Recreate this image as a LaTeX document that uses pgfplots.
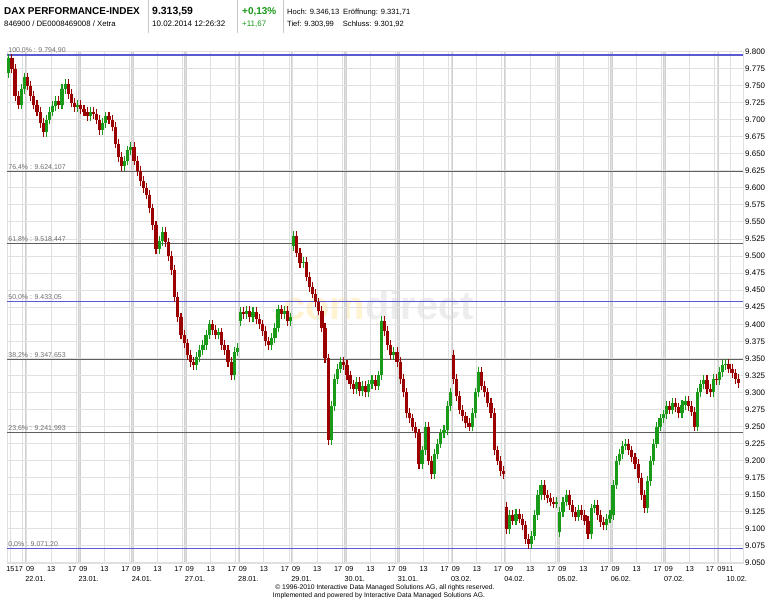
\documentclass[border=0pt]{standalone}
\usepackage{pgfplots}
\pgfplotsset{compat=1.18}
\usepackage{pgfplotstable}
\usepackage{fontspec}
\setmainfont{Liberation Sans}
\definecolor{fibblue}{RGB}{90,90,210}
\definecolor{fibgray}{RGB}{95,95,95}
\definecolor{labgray}{RGB}{110,110,110}
\definecolor{gridlight}{RGB}{224,224,224}
\definecolor{gridday}{RGB}{208,208,208}
\definecolor{pricegreen}{RGB}{20,150,20}
\definecolor{wmyellow}{RGB}{255,243,210}
\definecolor{wmgray}{RGB}{237,237,237}
\definecolor{sepgray}{RGB}{200,200,200}

\pgfplotstableread{
x o c
-2.75 9768 9790
-2.25 9790 9775
-1.75 9775 9735
-1.25 9735 9722
-0.75 9722 9745
-0.25 9745 9762
0.25 9762 9750
0.75 9750 9735
1.25 9735 9722
1.75 9722 9712
2.25 9712 9695
2.75 9695 9682
3.25 9682 9700
3.75 9700 9712
4.25 9712 9720
4.75 9720 9728
5.25 9728 9722
5.75 9722 9745
6.25 9745 9752
6.75 9752 9738
7.25 9738 9725
7.75 9725 9718
8.25 9718 9722
8.75 9722 9715
9.25 9715 9712
9.75 9712 9705
10.25 9705 9712
10.75 9712 9708
11.25 9708 9700
11.75 9700 9685
12.25 9685 9695
12.75 9695 9705
13.25 9705 9700
13.75 9700 9690
14.25 9690 9665
14.75 9665 9645
15.25 9645 9632
15.75 9632 9640
16.25 9640 9655
16.75 9655 9660
17.25 9660 9640
17.75 9640 9625
18.25 9625 9610
18.75 9610 9600
19.25 9600 9590
19.75 9590 9570
20.25 9570 9545
20.75 9545 9510
21.25 9510 9522
21.75 9522 9535
22.25 9535 9520
22.75 9520 9500
23.25 9500 9480
23.75 9480 9440
24.25 9440 9410
24.75 9410 9385
25.25 9385 9372
25.75 9372 9355
26.25 9355 9345
26.75 9345 9340
27.25 9340 9352
27.75 9352 9362
28.25 9362 9370
28.75 9370 9385
29.25 9385 9400
29.75 9400 9392
30.25 9392 9385
30.75 9385 9388
31.25 9388 9370
31.75 9370 9362
32.25 9362 9345
32.75 9345 9325
33.25 9325 9360
33.75 9360 9365
34.25 9405 9418
34.75 9418 9415
35.25 9415 9420
35.75 9420 9410
36.25 9410 9418
36.75 9418 9408
37.25 9408 9400
37.75 9400 9390
38.25 9390 9375
38.75 9375 9370
39.25 9370 9380
39.75 9380 9395
40.25 9395 9422
40.75 9422 9415
41.25 9415 9420
41.75 9420 9405
42.25 9405 9410
42.75 9515 9530
43.25 9530 9505
43.75 9505 9490
44.25 9490 9492
44.75 9492 9470
45.25 9470 9455
45.75 9455 9445
46.25 9445 9432
46.75 9432 9420
47.25 9420 9395
47.75 9395 9350
48.25 9350 9230
48.75 9230 9280
49.25 9280 9320
49.75 9320 9335
50.25 9335 9345
50.75 9345 9340
51.25 9340 9325
51.75 9325 9312
52.25 9312 9305
52.75 9305 9315
53.25 9315 9302
53.75 9302 9310
54.25 9310 9300
54.75 9300 9312
55.25 9312 9318
55.75 9318 9310
56.25 9310 9325
56.75 9325 9405
57.25 9405 9390
57.75 9390 9370
58.25 9370 9355
58.75 9355 9360
59.25 9360 9345
59.75 9345 9320
60.25 9320 9300
60.75 9300 9270
61.25 9270 9262
61.75 9262 9250
62.25 9250 9240
62.75 9240 9195
63.25 9195 9215
63.75 9215 9250
64.25 9250 9200
64.75 9200 9180
65.25 9180 9210
65.75 9210 9225
66.25 9225 9240
66.75 9240 9245
67.25 9245 9280
67.75 9280 9300
68.25 9355 9320
68.75 9320 9295
69.25 9295 9275
69.75 9275 9265
70.25 9265 9255
70.75 9255 9250
71.25 9250 9270
71.75 9270 9300
72.25 9300 9330
72.75 9330 9310
73.25 9310 9300
73.75 9300 9285
74.25 9285 9270
74.75 9270 9215
75.25 9215 9200
75.75 9200 9185
76.25 9185 9180
76.75 9132 9100
77.25 9100 9120
77.75 9120 9112
78.25 9112 9122
78.75 9122 9115
79.25 9115 9105
79.75 9105 9085
80.25 9085 9078
80.75 9078 9090
81.25 9090 9120
81.75 9120 9150
82.25 9150 9165
82.75 9165 9150
83.25 9150 9145
83.75 9145 9140
84.25 9140 9137
84.75 9137 9140
85.25 9095 9125
85.75 9125 9140
86.25 9140 9150
86.75 9150 9135
87.25 9135 9125
87.75 9125 9118
88.25 9118 9128
88.75 9128 9120
89.25 9120 9112
89.75 9112 9092
90.25 9092 9130
90.75 9130 9135
91.25 9135 9120
91.75 9120 9110
92.25 9110 9105
92.75 9105 9115
93.25 9115 9120
93.75 9120 9165
94.25 9165 9200
94.75 9200 9210
95.25 9210 9222
95.75 9222 9225
96.25 9225 9215
96.75 9215 9205
97.25 9205 9195
97.75 9195 9175
98.25 9175 9150
98.75 9150 9130
99.25 9130 9170
99.75 9170 9200
100.25 9200 9225
100.75 9225 9250
101.25 9250 9262
101.75 9262 9268
102.25 9268 9280
102.75 9280 9275
103.25 9275 9285
103.75 9285 9278
104.25 9278 9270
104.75 9270 9282
105.25 9282 9288
105.75 9288 9280
106.25 9280 9272
106.75 9272 9250
107.25 9250 9300
107.75 9300 9312
108.25 9312 9318
108.75 9318 9305
109.25 9305 9300
109.75 9300 9320
110.25 9320 9318
110.75 9318 9330
111.25 9330 9340
111.75 9340 9342
112.25 9342 9335
112.75 9335 9328
113.25 9328 9320
113.75 9320 9314
}\candles
\pgfplotstablecreatecol[create col/expr={\thisrow{c}>=\thisrow{o}}]{d}\candles

\begin{document}
\begin{tikzpicture}[x=1bp,y=1bp]
\path[use as bounding box] (0,0) rectangle (768,600);
% header
\draw[sepgray, line width=1bp] (148.5,567) -- (148.5,600);
\draw[sepgray, line width=1bp] (237.5,567) -- (237.5,600);
\draw[sepgray, line width=1bp] (283,567) -- (283,600);
\node[anchor=base west, inner sep=0, font=\fontsize{10}{12}\selectfont\bfseries] at (4,585) {DAX PERFORMANCE-INDEX};
\node[anchor=base west, inner sep=0, font=\fontsize{7.8}{9}\selectfont] at (4,573.5) {846900 / DE0008469008 / Xetra};
\node[anchor=base west, inner sep=0, font=\fontsize{10.5}{12}\selectfont\bfseries] at (152,585) {9.313,59};
\node[anchor=base west, inner sep=0, font=\fontsize{8}{9}\selectfont] at (152,573.5) {10.02.2014 12:26:32};
\node[anchor=base west, inner sep=0, font=\fontsize{10}{12}\selectfont\bfseries, text=pricegreen] at (242,585) {+0,13\%};
\node[anchor=base west, inner sep=0, font=\fontsize{8}{9}\selectfont, text=pricegreen] at (242,573.5) {+11,67};
\node[anchor=base west, inner sep=0, font=\fontsize{7.6}{9}\selectfont] at (287,585) {Hoch: 9.346,13\hspace{4bp}Eröffnung: 9.331,71};
\node[anchor=base west, inner sep=0, font=\fontsize{7.6}{9}\selectfont] at (287,573.5) {Tief: 9.303,99\hspace{9bp}Schluss: 9.301,92};
% footer
\node[anchor=base, inner sep=0, font=\fontsize{6.8}{8}\selectfont] at (385,10) {© 1996-2010 Interactive Data Managed Solutions AG, all rights reserved.};
\node[anchor=base, inner sep=0, font=\fontsize{6.8}{8}\selectfont] at (379,2.5) {Implemented and powered by Interactive Data Managed Solutions AG.};
% watermark (behind the axis)
\node[anchor=base west, inner sep=0, font=\fontsize{40}{40}\selectfont\bfseries] at (272,280) {\textcolor{wmyellow}{.com}\textcolor{wmgray}{direct}};

\begin{axis}[
  at={(7bp,37bp)}, anchor=south west,
  scale only axis, width=736bp, height=511.5bp,
  xmin=-3.04, xmax=114.5, ymin=9050, ymax=9800,
  clip mode=individual,
  axis line style={draw=gridlight},
  major tick length=0pt, minor tick length=0pt,
  ytick={9050,9075,...,9800},
  yticklabel pos=right,
  scaled y ticks=false,
  ymajorgrids, xmajorgrids, xminorgrids,
  major grid style={draw=gridlight, line width=1bp},
  minor grid style={draw=gridday, line width=2.6bp},
  minor xtick={0,8.5,...,110.5},
  xtick={-2.5,-0.5,0,4,8,8.5,12.5,16.5,17,21,25,25.5,29.5,33.5,34,38,42,42.5,46.5,50.5,51,55,59,59.5,63.5,67.5,68,72,76,76.5,80.5,84.5,85,89,93,93.5,97.5,101.5,102,106,110,110.5,112.5},
  xticklabels={15,\llap{17},\rlap{09},13,
    \llap{17},\rlap{09},13, \llap{17},\rlap{09},13, \llap{17},\rlap{09},13,
    \llap{17},\rlap{09},13, \llap{17},\rlap{09},13, \llap{17},\rlap{09},13,
    \llap{17},\rlap{09},13, \llap{17},\rlap{09},13, \llap{17},\rlap{09},13,
    \llap{17},\rlap{09},13, \llap{17},\rlap{09},13, \llap{17},\rlap{09},13,
    \llap{17\hspace{1bp}},\rlap{\hspace{-0.5bp}09},\rlap{\hspace{-4.5bp}11}},
  extra x ticks={1.5,10,18.5,27,35.5,44,52.5,61,69.5,78,86.5,95,103.5,113.5},
  extra x tick labels={22.01.,23.01.,24.01.,27.01.,28.01.,29.01.,30.01.,31.01.,03.02.,04.02.,05.02.,06.02.,07.02.,10.02.},
  extra x tick style={grid=none, tick label style={yshift=-9.5bp}},
  xticklabel style={font=\fontsize{7.3}{8}\selectfont, text=black},
  yticklabel style={font=\fontsize{8}{9}\selectfont, text=black, anchor=west, inner sep=2bp},
  /pgf/number format/1000 sep={.},
  /pgf/number format/assume math mode=true,
  colormap={updown}{rgb255=(155,0,0) rgb255=(25,155,25)},
  point meta min=0, point meta max=1,
]
% Fibonacci lines
\addplot[fibblue, line width=1.2bp] coordinates {(-3.04,9794.9) (114.5,9794.9)};
\addplot[fibgray, line width=1bp] coordinates {(-3.04,9624.107) (114.5,9624.107)};
\addplot[fibgray, line width=1bp] coordinates {(-3.04,9518.447) (114.5,9518.447)};
\addplot[fibblue, line width=1.2bp] coordinates {(-3.04,9433.05) (114.5,9433.05)};
\addplot[fibgray, line width=1bp] coordinates {(-3.04,9347.653) (114.5,9347.653)};
\addplot[fibgray, line width=1bp] coordinates {(-3.04,9241.993) (114.5,9241.993)};
\addplot[fibblue, line width=1.2bp] coordinates {(-3.04,9071.2) (114.5,9071.2)};
% wicks
\addplot[no markers, point meta=explicit,
  quiver={u=0, v={abs(\thisrow{c}-\thisrow{o})+14}, colored=mapped color,
    every arrow/.append style={line width=1.1bp}}]
  table[x=x, y expr={min(\thisrow{o},\thisrow{c})-7}, meta=d] {\candles};
% bodies
\addplot[no markers, point meta=explicit,
  quiver={u=0, v={\thisrow{c}-\thisrow{o}}, colored=mapped color,
    every arrow/.append style={line width=3.2bp}}]
  table[x=x, y=o, meta=d] {\candles};
% Fibonacci labels
\node[anchor=base west, inner sep=0, font=\fontsize{7}{8}\selectfont, text=labgray] at (axis cs:-2.85,9794.9) [yshift=2bp] {100,0\% : 9.794,90};
\node[anchor=base west, inner sep=0, font=\fontsize{7}{8}\selectfont, text=labgray] at (axis cs:-2.85,9624.107) [yshift=2bp] {76,4\% : 9.624,107};
\node[anchor=base west, inner sep=0, font=\fontsize{7}{8}\selectfont, text=labgray] at (axis cs:-2.85,9518.447) [yshift=2bp] {61,8\% : 9.518,447};
\node[anchor=base west, inner sep=0, font=\fontsize{7}{8}\selectfont, text=labgray] at (axis cs:-2.85,9433.05) [yshift=2bp] {50,0\% : 9.433,05};
\node[anchor=base west, inner sep=0, font=\fontsize{7}{8}\selectfont, text=labgray] at (axis cs:-2.85,9347.653) [yshift=2bp] {38,2\% : 9.347,653};
\node[anchor=base west, inner sep=0, font=\fontsize{7}{8}\selectfont, text=labgray] at (axis cs:-2.85,9241.993) [yshift=2bp] {23,6\% : 9.241,993};
\node[anchor=base west, inner sep=0, font=\fontsize{7}{8}\selectfont, text=labgray] at (axis cs:-2.85,9071.2) [yshift=2bp] {0,0\% : 9.071,20};
\end{axis}
\end{tikzpicture}
\end{document}
